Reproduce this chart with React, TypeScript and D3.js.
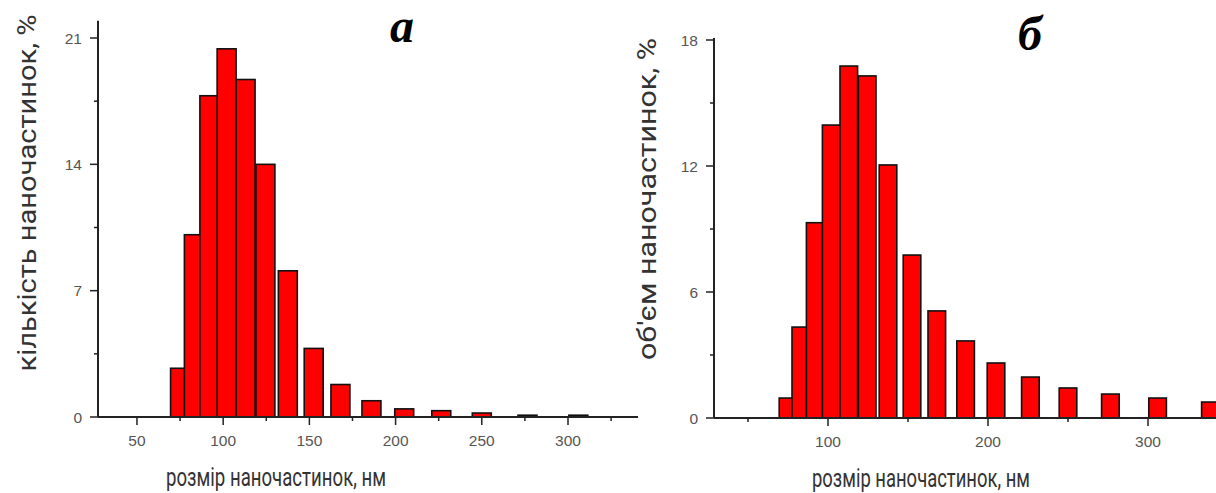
import React from "react";
import * as d3 from "d3";

// bin centres (nm)
const binCentersA = [75, 83, 92, 102, 113, 124.5, 137.5, 152.5, 168, 186, 205, 226.5, 250, 276.5, 306];
const countValues = [2.7, 10.1, 17.8, 20.4, 18.7, 14.0, 8.1, 3.8, 1.8, 0.9, 0.45, 0.35, 0.22, 0.1, 0.1];
const binCentersB = [75, 83, 92, 102, 113, 124.5, 137.5, 152.5, 168, 186, 205, 226.5, 250, 276.5, 306, 339];
const volumeValues = [0.95, 4.33, 9.3, 13.95, 16.76, 16.29, 12.05, 7.76, 5.1, 3.67, 2.62, 1.95, 1.43, 1.14, 0.95, 0.76];
const binWidth = 11;

const xTicksA = [50, 100, 150, 200, 250, 300];
const xMinorA = [75, 125, 175, 225, 275, 325];
const yTicksA = [0, 7, 14, 21];
const yMinorA = [3.5, 10.5, 17.5];
const xTicksB = [100, 200, 300];
const xMinorB = [50, 150, 250];
const yTicksB = [0, 6, 12, 18];
const yMinorB = [3, 9, 15];

const labelFont = "Roboto, 'Noto Sans', sans-serif";
const tickFont = "'Liberation Sans', Arial, sans-serif";

type PanelProps = {
  centers: number[];
  values: number[];
  xDomain: [number, number];
  xRange: [number, number];
  yDomain: [number, number];
  yRange: [number, number];
  yTop: number;
  xTicks: number[];
  xMinor: number[];
  yTicks: number[];
  yMinor: number[];
  yLabel: string;
  yLabelX: number;
  yLabelY: number;
  yLabelLen: number;
  xLabelX: number;
  xLabelY: number;
  xLabelLen: number;
  letter: string;
  letterX: number;
  letterY: number;
};

function Panel(p: PanelProps) {
  const x = d3.scaleLinear().domain(p.xDomain).range(p.xRange);
  const y = d3.scaleLinear().domain(p.yDomain).range(p.yRange);
  const x0 = p.xRange[0];
  const y0 = y(0);
  return (
    <g>
      {p.centers.map((c, i) => (
        <rect
          key={i}
          x={x(c - binWidth / 2)}
          y={y(p.values[i])}
          width={x(c + binWidth / 2) - x(c - binWidth / 2)}
          height={y0 - y(p.values[i])}
          fill="#ff0000"
          stroke="#111"
          strokeWidth={1.6}
        />
      ))}
      {/* axes */}
      <line x1={x0} x2={x0} y1={y(p.yTop)} y2={y0} stroke="#222" strokeWidth={2} />
      <line x1={x0} x2={p.xRange[1]} y1={y0} y2={y0} stroke="#222" strokeWidth={2} />
      {p.yTicks.map((t) => (
        <g key={"yt" + t}>
          <line x1={x0 - 8} x2={x0} y1={y(t)} y2={y(t)} stroke="#222" strokeWidth={1.5} />
          <text x={x0 - 16} y={y(t) + 5.5} textAnchor="end" fontFamily={tickFont} fontSize={15.5} fill="#555">
            {t}
          </text>
        </g>
      ))}
      {p.yMinor.map((t) => (
        <line key={"ym" + t} x1={x0 - 4} x2={x0} y1={y(t)} y2={y(t)} stroke="#222" strokeWidth={1.5} />
      ))}
      {p.xTicks.map((t) => (
        <g key={"xt" + t}>
          <line x1={x(t)} x2={x(t)} y1={y0} y2={y0 + 8} stroke="#222" strokeWidth={1.5} />
          <text x={x(t)} y={y0 + 29} textAnchor="middle" fontFamily={tickFont} fontSize={15.5} fill="#555">
            {t}
          </text>
        </g>
      ))}
      {p.xMinor.map((t) => (
        <line key={"xm" + t} x1={x(t)} x2={x(t)} y1={y0} y2={y0 + 4} stroke="#222" strokeWidth={1.5} />
      ))}
      <text
        transform={`translate(${p.yLabelX},${p.yLabelY}) rotate(-90)`}
        textAnchor="middle"
        fontFamily={labelFont}
        fontSize={26}
        fill="#333"
        textLength={p.yLabelLen}
        lengthAdjust="spacingAndGlyphs"
      >
        {p.yLabel}
      </text>
      <text
        x={p.xLabelX}
        y={p.xLabelY}
        textAnchor="middle"
        fontFamily={labelFont}
        fontSize={25}
        fill="#333"
        textLength={p.xLabelLen}
        lengthAdjust="spacingAndGlyphs"
      >
        розмір наночастинок, нм
      </text>
      <text
        x={p.letterX}
        y={p.letterY}
        textAnchor="middle"
        fontFamily="'Liberation Serif', 'Times New Roman', serif"
        fontStyle="italic"
        fontWeight="bold"
        fontSize={48}
        fill="#000"
      >
        {p.letter}
      </text>
    </g>
  );
}

export default function App() {
  return (
    <svg
      width={1216}
      height={493}
      style={{ position: "absolute", left: 0, top: 0, background: "#fff" }}
    >
      <rect width={1216} height={493} fill="#fff" />
      <Panel
        centers={binCentersA}
        values={countValues}
        xDomain={[27.4, 340.6]}
        xRange={[98, 638]}
        yDomain={[0, 21]}
        yRange={[417, 38]}
        yTop={21.95}
        xTicks={xTicksA}
        xMinor={xMinorA}
        yTicks={yTicksA}
        yMinor={yMinorA}
        yLabel="кількість наночастинок, %"
        yLabelX={36}
        yLabelY={193}
        yLabelLen={357}
        xLabelX={276}
        xLabelY={486}
        xLabelLen={220}
        letter="а"
        letterX={402}
        letterY={42}
      />
      <Panel
        centers={binCentersB}
        values={volumeValues}
        xDomain={[28.75, 342.5]}
        xRange={[714, 1216]}
        yDomain={[0, 18]}
        yRange={[418, 40]}
        yTop={18.1}
        xTicks={xTicksB}
        xMinor={xMinorB}
        yTicks={yTicksB}
        yMinor={yMinorB}
        yLabel="об'єм наночастинок, %"
        yLabelX={656}
        yLabelY={199}
        yLabelLen={322}
        xLabelX={921}
        xLabelY={487}
        xLabelLen={218}
        letter="б"
        letterX={1030}
        letterY={50}
      />
    </svg>
  );
}
